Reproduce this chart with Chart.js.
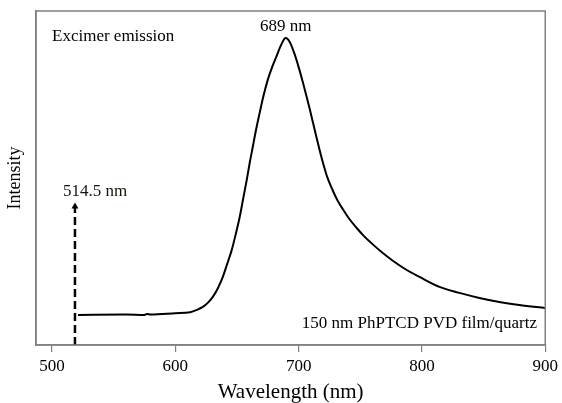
<!DOCTYPE html>
<html>
<head>
<meta charset="utf-8">
<script src="https://cdn.jsdelivr.net/npm/chart.js@4.4.0/dist/chart.umd.min.js"></script>
<style>
  html, body { margin: 0; padding: 0; background: #fff; }
  #wrap { width: 562px; height: 403px; position: relative; }
</style>
</head>
<body>
<div id="wrap"><canvas id="c"></canvas></div>
<script>
// Emission spectrum (wavelength in nm, intensity in arbitrary units)
const wavelength = [521, 560, 575, 577, 580, 600, 612, 618, 622.3, 626.5, 630.4, 634.5, 638.5, 642,
  645.7, 649, 652.2, 655, 657.9, 660.3, 662.8, 665.5, 668.4, 671.5, 674.9, 678.5, 682.2, 686, 689.5,
  693, 696.8, 700, 703.2, 706, 708.9, 712, 714.6, 717, 719.4, 723, 727.5, 731.5, 735.6, 741, 746.9,
  753, 759.9, 768, 776.1, 787, 798, 814.2, 830.4, 846.6, 862.8, 879, 900];
const intensity = [9.0, 9.1, 9.0, 9.3, 9.1, 9.5, 9.8, 10.6, 11.4, 12.7, 14.4, 17.0, 20.4, 24.2,
  28.4, 33.2, 38.3, 43.8, 49.4, 54.5, 59.3, 64.5, 69.5, 74.6, 79.3, 83.2, 86.6, 90.0, 91.9,
  90.6, 87.0, 83.2, 79.0, 75.0, 70.8, 66.0, 62.0, 58.4, 55.0, 50.5, 46.4, 43.3, 40.8, 37.8, 35.1,
  32.6, 30.2, 27.6, 25.3, 22.6, 20.4, 17.4, 15.6, 14.1, 12.9, 12.0, 11.1];

// excitation line (dashed arrow)
const laserX = [518.6, 518.6];
const laserY = [0, 41.5];

const xTicks = [500, 600, 700, 800, 900];
const xRange = [487, 900];
const yRange = [0, 100];

const SERIF = '"Liberation Serif", "Times New Roman", serif';
const AXIS_GREY = '#808080';

const spectrum = wavelength.map((w, i) => ({ x: w, y: intensity[i] }));
const laser = laserX.map((w, i) => ({ x: w, y: laserY[i] }));

// frame + text labels
const decorations = {
  id: 'decorations',
  afterDatasetsDraw(chart) {
    const { ctx, chartArea: a, scales: { x, y } } = chart;
    ctx.save();
    ctx.strokeStyle = AXIS_GREY;
    ctx.lineWidth = 1.5;
    ctx.strokeRect(a.left, a.top, a.right - a.left, a.bottom - a.top);

    ctx.fillStyle = '#000';
    ctx.textBaseline = 'middle';
    ctx.font = '17px ' + SERIF;
    ctx.textAlign = 'left';
    ctx.fillText('Excimer emission', 52, 37);

    ctx.textAlign = 'center';
    ctx.fillText('689 nm', x.getPixelForValue(689.5), y.getPixelForValue(91.9) - 12);

    ctx.fillStyle = '#1a1208';
    ctx.textAlign = 'left';
    ctx.fillText('514.5 nm', 63, 192);

    ctx.fillStyle = '#000';
    ctx.textAlign = 'right';
    ctx.fillText('150 nm PhPTCD PVD film/quartz', 537, 324);
    ctx.restore();
  }
};

new Chart(document.getElementById('c'), {
  type: 'line',
  data: {
    datasets: [
      {
        data: spectrum,
        borderColor: '#000',
        borderWidth: 2,
        pointRadius: 0,
        cubicInterpolationMode: 'monotone'
      },
      {
        data: laser,
        borderColor: '#000',
        backgroundColor: '#000',
        borderWidth: 2.5,
        borderDash: [8, 4],
        pointStyle: 'triangle',
        pointRadius: [0, 4],
        pointBorderWidth: 0
      }
    ]
  },
  options: {
    responsive: true,
    maintainAspectRatio: false,
    animation: false,
    layout: { padding: { top: 11, right: 16, left: 0, bottom: 0 } },
    plugins: { legend: { display: false }, tooltip: { enabled: false } },
    scales: {
      x: {
        type: 'linear',
        min: xRange[0],
        max: xRange[1],
        afterBuildTicks: (s) => { s.ticks = xTicks.map(v => ({ value: v })); },
        afterFit: (s) => { s.height = 58; },
        grid: { drawOnChartArea: false, drawTicks: true, tickLength: 7, color: AXIS_GREY, lineWidth: 1.2 },
        border: { display: true, color: AXIS_GREY, width: 1.5 },
        ticks: { color: '#000', font: { family: SERIF, size: 17 }, padding: 4, maxRotation: 0 },
        title: {
          display: true,
          text: 'Wavelength (nm)',
          color: '#000',
          font: { family: SERIF, size: 21, lineHeight: 1 },
          padding: { top: 0, bottom: 0 }
        }
      },
      y: {
        min: yRange[0],
        max: yRange[1],
        afterFit: (s) => { s.width = 36; },
        grid: { display: false },
        border: { display: true, color: AXIS_GREY, width: 1.5 },
        ticks: { display: false },
        title: {
          display: true,
          text: 'Intensity',
          color: '#000',
          font: { family: SERIF, size: 18, lineHeight: 1.2 },
          padding: { top: 4, bottom: 0 }
        }
      }
    }
  },
  plugins: [decorations]
});
</script>
</body>
</html>
